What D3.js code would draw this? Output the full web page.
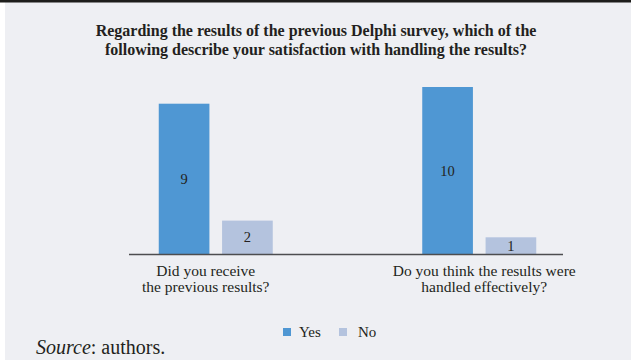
<!DOCTYPE html>
<html>
<head>
<meta charset="utf-8">
<script src="https://cdn.jsdelivr.net/npm/d3@7"></script>
<style>
  html, body { margin: 0; padding: 0; background: #fff; }
  svg { display: block; }
</style>
</head>
<body>
<svg id="chart" width="631" height="363"></svg>
<script>
// data
const categories = [
  ["Did you receive", "the previous results?"],
  ["Do you think the results were", "handled effectively?"]
];
const seriesNames = ["Yes", "No"];
const yesValues = [9, 10];
const noValues = [2, 1];
const titleLines = [
  "Regarding the results of the previous Delphi survey, which of the",
  "following describe your satisfaction with handling the results?"
];

const colors = { Yes: "#4f97d3", No: "#b4c3de" };
const textColor = "#231f20";
const serif = "'Liberation Serif', 'DejaVu Serif', serif";

const svg = d3.select("#chart");

// frame: white page, gray panel, black rule on top
svg.append("rect").attr("width", 631).attr("height", 363).attr("fill", "#ffffff");
svg.append("rect").attr("x", 5).attr("y", 0).attr("width", 626).attr("height", 360).attr("fill", "#eeeff3");
svg.append("rect").attr("x", 0).attr("y", 0).attr("width", 631).attr("height", 2.5).attr("fill", "#1d1d1b");

// title
svg.append("g")
  .selectAll("text")
  .data(titleLines)
  .join("text")
  .attr("x", 316)
  .attr("y", (d, i) => 36 + i * 19)
  .attr("text-anchor", "middle")
  .attr("font-family", serif)
  .attr("font-weight", "bold")
  .attr("font-size", 16)
  .attr("fill", textColor)
  .text(d => d);

// scales
const keys = categories.map((d, i) => i);
const x0 = d3.scaleBand().domain(keys).range([84, 611]).padding(0);
const x1 = d3.scaleBand().domain(seriesNames).range([0, 114]).paddingInner(0.2).paddingOuter(0);
const y = d3.scaleLinear().domain([0, 10]).range([254, 87]);

const rows = keys.map(i => ({
  key: i,
  values: [
    { name: "Yes", value: yesValues[i] },
    { name: "No", value: noValues[i] }
  ]
}));

const groups = svg.append("g")
  .selectAll("g")
  .data(rows)
  .join("g")
  .attr("transform", d => `translate(${x0(d.key) + x0.bandwidth() / 2 - 57},0)`);

groups.selectAll("rect")
  .data(d => d.values)
  .join("rect")
  .attr("x", d => x1(d.name))
  .attr("y", d => y(d.value))
  .attr("width", x1.bandwidth())
  .attr("height", d => y(0) - y(d.value))
  .attr("fill", d => colors[d.name]);

groups.selectAll("text.value")
  .data(d => d.values)
  .join("text")
  .attr("class", "value")
  .attr("x", d => x1(d.name) + x1.bandwidth() / 2)
  .attr("y", d => (y(d.value) + y(0)) / 2 + 5)
  .attr("text-anchor", "middle")
  .attr("font-family", serif)
  .attr("font-size", 14.5)
  .attr("fill", textColor)
  .text(d => d.value);

// baseline
svg.append("line")
  .attr("x1", 129).attr("x2", 563)
  .attr("y1", y(0) + 0.5).attr("y2", y(0) + 0.5)
  .attr("stroke", "#4d4d4f")
  .attr("stroke-width", 1.5);

// category labels
const catLabels = svg.append("g")
  .selectAll("text")
  .data(rows)
  .join("text")
  .attr("text-anchor", "middle")
  .attr("font-family", serif)
  .attr("font-size", 15.5)
  .attr("fill", textColor);

catLabels.selectAll("tspan")
  .data(d => categories[d.key].map(t => ({ t, key: d.key })))
  .join("tspan")
  .attr("x", d => x0(d.key) + x0.bandwidth() / 2 - 10 + d.key * 15)
  .attr("y", (d, i) => 276 + i * 15.5)
  .text(d => d.t);

// legend
const legend = svg.append("g").attr("transform", "translate(283,328)");
const legendItems = legend.selectAll("g")
  .data(seriesNames)
  .join("g")
  .attr("transform", (d, i) => `translate(${i * 56},0)`);
legendItems.append("rect")
  .attr("width", 8).attr("height", 8)
  .attr("fill", d => colors[d]);
legendItems.append("text")
  .attr("x", d => d === "Yes" ? 16 : 19)
  .attr("y", 9)
  .attr("font-family", serif)
  .attr("font-size", 15)
  .attr("fill", textColor)
  .text(d => d);

// source note
const src = svg.append("text")
  .attr("x", 36)
  .attr("y", 354)
  .attr("font-family", serif)
  .attr("font-size", 20)
  .attr("fill", textColor);
src.append("tspan").attr("font-style", "italic").text("Source");
src.append("tspan").text(": authors.");
</script>
</body>
</html>
